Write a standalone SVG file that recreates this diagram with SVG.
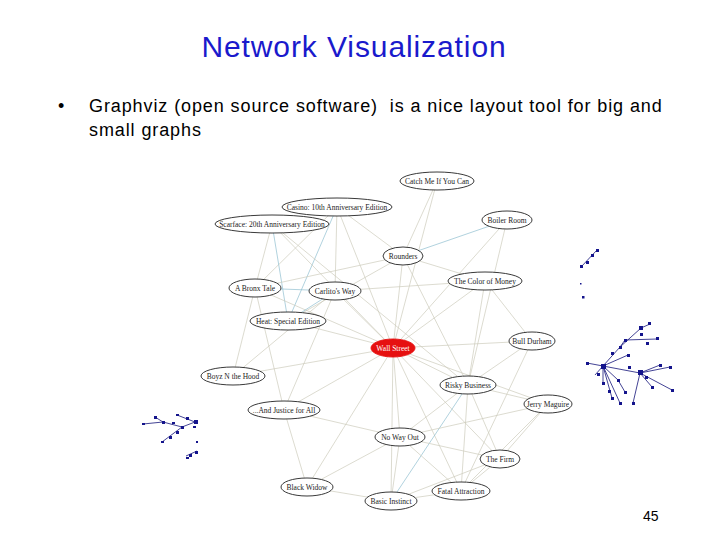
<svg xmlns="http://www.w3.org/2000/svg" width="720" height="540" viewBox="0 0 720 540">
<style>
.title{font-family:"Liberation Sans",Arial,sans-serif;font-size:30px;letter-spacing:0.9px;fill:#1a1acc}
.body{font-family:"Liberation Sans",Arial,sans-serif;font-size:18px;letter-spacing:0.9px;fill:#000;white-space:pre}
.pg{font-family:"Liberation Sans",Arial,sans-serif;font-size:14px;fill:#000}
.n ellipse{fill:#fff;stroke:#222;stroke-width:0.9}
.n text{font-family:"Liberation Serif","Times New Roman",serif;font-size:7.5px;fill:#222;text-anchor:middle;dominant-baseline:central}
#n_wall ellipse{fill:#e61010;stroke:#e61010}
#n_wall text{fill:#fff}
.e line{stroke:#cdccbc;stroke-width:0.7}
.e line.b{stroke:#8fbfd0}
.s line{stroke:#14147a;stroke-width:0.8}
.s rect{fill:#14148c}
</style>
<text class="title" x="354" y="57" text-anchor="middle">Network Visualization</text>
<text class="body" x="58" y="112">•</text>
<text class="body" x="89" y="112" xml:space="preserve">Graphviz (open source software)  is a nice layout tool for big and</text>
<text class="body" x="89" y="136">small graphs</text>
<text class="pg" x="643" y="521">45</text>
<g id="connectors" class="e">
<line x1="437" y1="181" x2="403" y2="256"/>
<line x1="437" y1="181" x2="393" y2="348"/>
<line x1="337" y1="207" x2="403" y2="256"/>
<line x1="337" y1="207" x2="335" y2="291"/>
<line x1="337" y1="207" x2="393" y2="348"/>
<line class="b" x1="337" y1="207" x2="288" y2="321"/>
<line x1="337" y1="207" x2="255" y2="288"/>
<line x1="272" y1="224" x2="255" y2="288"/>
<line class="b" x1="272" y1="224" x2="288" y2="321"/>
<line x1="272" y1="224" x2="393" y2="348"/>
<line x1="272" y1="224" x2="468" y2="385"/>
<line class="b" x1="507" y1="220" x2="403" y2="256"/>
<line x1="507" y1="220" x2="393" y2="348"/>
<line x1="507" y1="220" x2="468" y2="385"/>
<line x1="403" y1="256" x2="255" y2="288"/>
<line x1="403" y1="256" x2="288" y2="321"/>
<line x1="403" y1="256" x2="485" y2="281"/>
<line x1="403" y1="256" x2="393" y2="348"/>
<line x1="403" y1="256" x2="468" y2="385"/>
<line x1="485" y1="281" x2="335" y2="291"/>
<line x1="485" y1="281" x2="393" y2="348"/>
<line x1="485" y1="281" x2="532" y2="341"/>
<line x1="485" y1="281" x2="468" y2="385"/>
<line class="b" x1="255" y1="288" x2="335" y2="291"/>
<line x1="255" y1="288" x2="233" y2="376"/>
<line x1="255" y1="288" x2="284" y2="410"/>
<line x1="255" y1="288" x2="393" y2="348"/>
<line class="b" x1="335" y1="291" x2="288" y2="321"/>
<line x1="335" y1="291" x2="393" y2="348"/>
<line x1="335" y1="291" x2="284" y2="410"/>
<line x1="335" y1="291" x2="233" y2="376"/>
<line x1="288" y1="321" x2="393" y2="348"/>
<line x1="233" y1="376" x2="393" y2="348"/>
<line x1="393" y1="348" x2="532" y2="341"/>
<line x1="393" y1="348" x2="468" y2="385"/>
<line x1="393" y1="348" x2="548" y2="404"/>
<line x1="393" y1="348" x2="284" y2="410"/>
<line x1="393" y1="348" x2="400" y2="437"/>
<line x1="393" y1="348" x2="500" y2="459"/>
<line x1="393" y1="348" x2="307" y2="487"/>
<line x1="393" y1="348" x2="391" y2="501"/>
<line x1="393" y1="348" x2="461" y2="491"/>
<line x1="532" y1="341" x2="468" y2="385"/>
<line x1="532" y1="341" x2="461" y2="491"/>
<line x1="468" y1="385" x2="548" y2="404"/>
<line x1="468" y1="385" x2="400" y2="437"/>
<line class="b" x1="468" y1="385" x2="391" y2="501"/>
<line x1="468" y1="385" x2="461" y2="491"/>
<line x1="468" y1="385" x2="500" y2="459"/>
<line x1="548" y1="404" x2="500" y2="459"/>
<line x1="548" y1="404" x2="461" y2="491"/>
<line x1="548" y1="404" x2="400" y2="437"/>
<line x1="284" y1="410" x2="400" y2="437"/>
<line x1="284" y1="410" x2="307" y2="487"/>
<line x1="400" y1="437" x2="307" y2="487"/>
<line x1="400" y1="437" x2="391" y2="501"/>
<line x1="400" y1="437" x2="461" y2="491"/>
<line x1="400" y1="437" x2="500" y2="459"/>
<line x1="307" y1="487" x2="391" y2="501"/>
<line x1="391" y1="501" x2="461" y2="491"/>
<line x1="500" y1="459" x2="461" y2="491"/>
<line x1="500" y1="459" x2="391" y2="501"/>
</g>
<g id="n_catch" class="n"><ellipse cx="437" cy="181" rx="37" ry="9"/><text x="437" y="181">Catch Me If You Can</text></g>
<g id="n_casino" class="n"><ellipse cx="337" cy="207" rx="55" ry="9"/><text x="337" y="207">Casino: 10th Anniversary Edition</text></g>
<g id="n_scarface" class="n"><ellipse cx="272" cy="224" rx="57" ry="9"/><text x="272" y="224">Scarface: 20th Anniversary Edition</text></g>
<g id="n_boiler" class="n"><ellipse cx="507" cy="220" rx="25" ry="9"/><text x="507" y="220">Boiler Room</text></g>
<g id="n_rounders" class="n"><ellipse cx="403" cy="256" rx="20" ry="9"/><text x="403" y="256">Rounders</text></g>
<g id="n_color" class="n"><ellipse cx="485" cy="281" rx="37" ry="9"/><text x="485" y="281">The Color of Money</text></g>
<g id="n_bronx" class="n"><ellipse cx="255" cy="288" rx="26" ry="9"/><text x="255" y="288">A Bronx Tale</text></g>
<g id="n_carlito" class="n"><ellipse cx="335" cy="291" rx="26" ry="9"/><text x="335" y="291">Carlito's Way</text></g>
<g id="n_heat" class="n"><ellipse cx="288" cy="321" rx="38" ry="9"/><text x="288" y="321">Heat: Special Edition</text></g>
<g id="n_wall" class="n"><ellipse cx="393" cy="348" rx="22" ry="9"/><text x="393" y="348">Wall Street</text></g>
<g id="n_bull" class="n"><ellipse cx="532" cy="341" rx="23" ry="9"/><text x="532" y="341">Bull Durham</text></g>
<g id="n_boyz" class="n"><ellipse cx="233" cy="376" rx="32" ry="9"/><text x="233" y="376">Boyz N the Hood</text></g>
<g id="n_risky" class="n"><ellipse cx="468" cy="385" rx="28" ry="9"/><text x="468" y="385">Risky Business</text></g>
<g id="n_jerry" class="n"><ellipse cx="548" cy="404" rx="24" ry="9"/><text x="548" y="404">Jerry Maguire</text></g>
<g id="n_justice" class="n"><ellipse cx="284" cy="410" rx="36" ry="9"/><text x="284" y="410">...And Justice for All</text></g>
<g id="n_noway" class="n"><ellipse cx="400" cy="437" rx="25" ry="9"/><text x="400" y="437">No Way Out</text></g>
<g id="n_firm" class="n"><ellipse cx="500" cy="459" rx="20" ry="9"/><text x="500" y="459">The Firm</text></g>
<g id="n_widow" class="n"><ellipse cx="307" cy="487" rx="26" ry="9"/><text x="307" y="487">Black Widow</text></g>
<g id="n_basic" class="n"><ellipse cx="391" cy="501" rx="26" ry="9"/><text x="391" y="501">Basic Instinct</text></g>
<g id="n_fatal" class="n"><ellipse cx="461" cy="491" rx="29" ry="9"/><text x="461" y="491">Fatal Attraction</text></g>
<g id="small_right" class="s">
<line x1="597" y1="250" x2="581" y2="267"/>
<line x1="641" y1="328" x2="620" y2="347"/>
<line x1="620" y1="347" x2="603" y2="366"/>
<line x1="603" y1="366" x2="587" y2="363"/>
<line x1="641" y1="328" x2="650" y2="324"/>
<line x1="657" y1="339" x2="625" y2="340"/>
<line x1="625" y1="340" x2="620" y2="347"/>
<line x1="603" y1="366" x2="640" y2="373"/>
<line x1="603" y1="366" x2="612" y2="398"/>
<line x1="603" y1="366" x2="620" y2="403"/>
<line x1="603" y1="366" x2="603" y2="383"/>
<line x1="603" y1="366" x2="628" y2="355"/>
<line x1="640" y1="373" x2="670" y2="367"/>
<line x1="640" y1="373" x2="672" y2="390"/>
<line x1="640" y1="373" x2="652" y2="387"/>
<line x1="640" y1="373" x2="633" y2="403"/>
<line x1="640" y1="373" x2="660" y2="365"/>
<line x1="603" y1="366" x2="618" y2="380"/>
<line x1="618" y1="380" x2="625" y2="392"/>
<line x1="595" y1="375" x2="603" y2="366"/>
<rect x="596" y="249" width="3" height="3"/><rect x="591" y="254" width="3" height="3"/><rect x="586" y="261" width="3" height="3"/><rect x="580" y="265" width="3" height="3"/>
<rect x="580" y="283" width="1.5" height="1.5"/><rect x="582" y="296" width="2.5" height="2.5"/>
<rect x="639" y="326" width="4" height="4"/><rect x="648" y="322" width="3" height="3"/><rect x="656" y="337" width="3" height="3"/><rect x="624" y="339" width="3" height="3"/><rect x="619" y="346" width="3" height="3"/><rect x="640" y="333" width="3" height="3"/><rect x="646" y="342" width="3" height="3"/>
<rect x="601" y="364" width="5" height="5"/><rect x="586" y="362" width="3" height="3"/><rect x="597" y="373" width="3" height="3"/><rect x="627" y="354" width="3" height="3"/><rect x="611" y="352" width="3" height="3"/><rect x="617" y="379" width="3" height="3"/><rect x="624" y="391" width="3" height="3"/>
<rect x="638" y="370" width="5" height="5"/><rect x="669" y="366" width="3" height="3"/><rect x="671" y="389" width="3" height="3"/><rect x="651" y="386" width="3" height="3"/><rect x="632" y="402" width="3" height="3"/><rect x="659" y="364" width="3" height="3"/><rect x="645" y="376" width="3" height="3"/>
<rect x="602" y="382" width="3" height="3"/><rect x="611" y="397" width="3" height="3"/><rect x="619" y="402" width="3" height="3"/><rect x="608" y="390" width="3" height="3"/><rect x="628" y="366" width="3" height="3"/>
</g>
<g id="small_left" class="s">
<line x1="143" y1="424" x2="163" y2="422"/>
<line x1="163" y1="422" x2="182" y2="427"/>
<line x1="182" y1="427" x2="195" y2="422"/>
<line x1="155" y1="417" x2="163" y2="422"/>
<line x1="177" y1="415" x2="195" y2="422"/>
<line x1="182" y1="427" x2="162" y2="442"/>
<line x1="186" y1="456" x2="197" y2="451"/>
<rect x="142" y="423" width="3" height="2"/><rect x="154" y="416" width="3" height="3"/><rect x="162" y="421" width="3" height="3"/><rect x="172" y="422" width="3" height="2"/><rect x="176" y="414" width="3" height="2"/><rect x="186" y="417" width="3" height="3"/><rect x="194" y="420" width="4" height="4"/><rect x="181" y="426" width="3" height="3"/><rect x="193" y="426" width="3" height="2"/><rect x="176" y="431" width="3" height="3"/><rect x="169" y="436" width="3" height="3"/><rect x="161" y="441" width="3" height="2"/><rect x="196" y="441" width="2" height="2"/><rect x="189" y="454" width="3" height="3"/><rect x="186" y="457" width="3" height="2"/><rect x="195" y="451" width="3" height="3"/>
</g>
</svg>
